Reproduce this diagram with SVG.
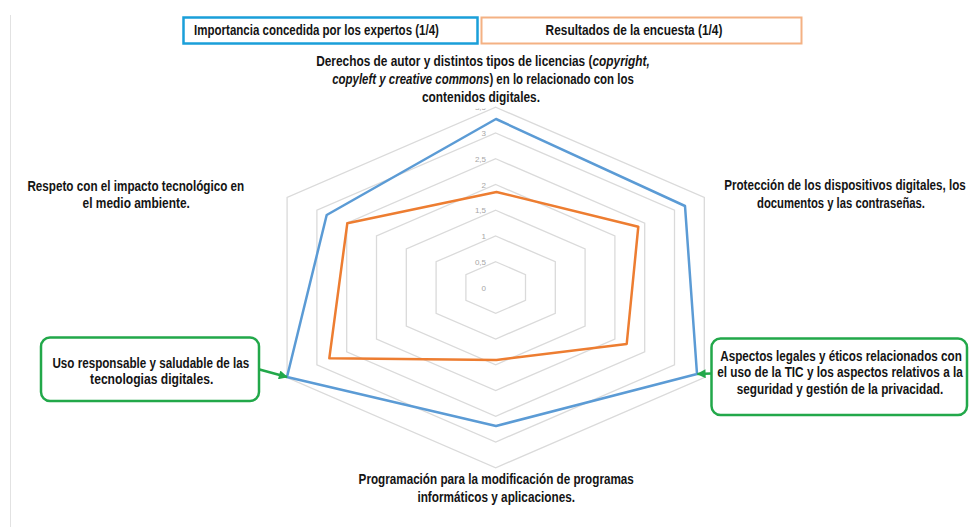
<svg xmlns="http://www.w3.org/2000/svg" width="969" height="527" viewBox="0 0 969 527">
  <defs>
    <style>
      .lbl{font-family:"Liberation Sans Narrow","Arial Narrow","Liberation Sans",Arial,sans-serif;font-weight:bold;font-size:14px;fill:#141414;text-anchor:middle}
      .tick{font-family:"Liberation Sans",Arial,sans-serif;font-size:8px;fill:#a6a6a6;text-anchor:end}
      .grid{fill:none;stroke:#dadada;stroke-width:1.3}
      .gbox{fill:#ffffff;stroke:#22a84a;stroke-width:2.5}
      .conn{stroke:#22a84a;stroke-width:2.5;fill:none}
      .it{font-style:italic}
    </style>
    <marker id="arr" viewBox="0 0 10 10" refX="9" refY="5" markerWidth="10" markerHeight="9" markerUnits="userSpaceOnUse" orient="auto">
      <path d="M0,0 L10,5 L0,10 z" fill="#22a84a"/>
    </marker>
    <clipPath id="clip35"><rect x="470" y="108.5" width="30" height="10"/></clipPath>
  </defs>

  <rect width="969" height="527" fill="#ffffff"/>
  <line x1="10.5" y1="15" x2="10.5" y2="527" stroke="#e2e2e2" stroke-width="1"/>

  <g id="legend-expertos">
    <rect x="183.5" y="17.5" width="294" height="26" fill="none" stroke="#1a9fd9" stroke-width="2.5"/>
    <text class="lbl" transform="translate(316.5,35) scale(0.8,1)" textLength="306" lengthAdjust="spacingAndGlyphs">Importancia concedida por los expertos (1/4)</text>
  </g>
  <g id="legend-encuesta">
    <rect x="481.5" y="17.5" width="320" height="26" fill="none" stroke="#f4b183" stroke-width="2"/>
    <text class="lbl" transform="translate(634,35) scale(0.8,1)" textLength="221" lengthAdjust="spacingAndGlyphs">Resultados de la encuesta (1/4)</text>
  </g>

  <g id="radar-grid">
    <polygon class="grid" points="495.7,261.75 525.5,274.6 525.5,300.4 495.7,313.25 465.9,300.4 465.9,274.6"/>
    <polygon class="grid" points="495.7,236 555.3,261.75 555.3,313.25 495.7,339 436.1,313.25 436.1,261.75"/>
    <polygon class="grid" points="495.7,210.25 585.1,248.9 585.1,326.1 495.7,364.75 406.3,326.1 406.3,248.9"/>
    <polygon class="grid" points="495.7,184.5 614.9,236 614.9,339 495.7,390.5 376.5,339 376.5,236"/>
    <polygon class="grid" points="495.7,158.75 644.7,223.1 644.7,351.9 495.7,416.25 346.7,351.9 346.7,223.1"/>
    <polygon class="grid" points="495.7,133 674.5,210.25 674.5,364.75 495.7,442 316.9,364.75 316.9,210.25"/>
    <polygon class="grid" points="495.7,107.25 704.3,197.4 704.3,377.6 495.7,467.75 287.1,377.6 287.1,197.4"/>
    <text class="tick" x="486" y="290.5">0</text>
    <text class="tick" x="486" y="264.8">0,5</text>
    <text class="tick" x="486" y="239">1</text>
    <text class="tick" x="486" y="213.3">1,5</text>
    <text class="tick" x="486" y="187.5">2</text>
    <text class="tick" x="486" y="161.8">2,5</text>
    <text class="tick" x="486" y="136">3</text>
    <text class="tick" x="486" y="110.3" clip-path="url(#clip35)">3,5</text>
  </g>

  <g id="serie-expertos">
    <polygon points="496,119 685,206 697,374 496,426 287,377 326.7,215" fill="none" stroke="#5b9bd5" stroke-width="2.5" stroke-linejoin="round"/>
  </g>
  <g id="serie-encuesta">
    <polygon points="496.5,192 638.3,226.7 626.7,344 496.5,360 329.3,358.3 347.3,223.3" fill="none" stroke="#ed7d31" stroke-width="2.5" stroke-linejoin="round"/>
  </g>

  <g id="eje-derechos">
    <text class="lbl" transform="translate(483,65.5) scale(0.8,1)" textLength="417" lengthAdjust="spacingAndGlyphs">Derechos de autor y distintos tipos de licencias (<tspan class="it">copyright,</tspan></text>
    <text class="lbl" transform="translate(483,84) scale(0.8,1)" textLength="377" lengthAdjust="spacingAndGlyphs"><tspan class="it">copyleft y creative commons</tspan>) en lo relacionado con los</text>
    <text class="lbl" transform="translate(481,101.8) scale(0.8,1)" textLength="147.5" lengthAdjust="spacingAndGlyphs">contenidos digitales.</text>
  </g>
  <g id="eje-proteccion">
    <text class="lbl" transform="translate(845,189.8) scale(0.8,1)" textLength="302" lengthAdjust="spacingAndGlyphs">Protección de los dispositivos digitales, los</text>
    <text class="lbl" transform="translate(841,207.5) scale(0.8,1)" textLength="210" lengthAdjust="spacingAndGlyphs">documentos y las contraseñas.</text>
  </g>
  <g id="eje-aspectos">
    <rect class="gbox" x="711.5" y="338.5" width="255.5" height="76.5" rx="9"/>
    <text class="lbl" transform="translate(841,360.5) scale(0.8,1)" textLength="302" lengthAdjust="spacingAndGlyphs">Aspectos legales y éticos relacionados con</text>
    <text class="lbl" transform="translate(840,377.3) scale(0.8,1)" textLength="307" lengthAdjust="spacingAndGlyphs">el uso de la TIC y los aspectos relativos a la</text>
    <text class="lbl" transform="translate(840,394) scale(0.8,1)" textLength="258" lengthAdjust="spacingAndGlyphs">seguridad y gestión de la privacidad.</text>
  </g>
  <g id="eje-programacion">
    <text class="lbl" transform="translate(496.2,484) scale(0.8,1)" textLength="344" lengthAdjust="spacingAndGlyphs">Programación para la modificación de programas</text>
    <text class="lbl" transform="translate(496.2,502) scale(0.8,1)" textLength="197" lengthAdjust="spacingAndGlyphs">informáticos y aplicaciones.</text>
  </g>
  <g id="eje-uso">
    <rect class="gbox" x="41" y="337.5" width="218" height="63.5" rx="9"/>
    <text class="lbl" transform="translate(150.8,367.5) scale(0.8,1)" textLength="246" lengthAdjust="spacingAndGlyphs">Uso responsable y saludable de las</text>
    <text class="lbl" transform="translate(151.7,384.2) scale(0.8,1)" textLength="154" lengthAdjust="spacingAndGlyphs">tecnologias digitales.</text>
  </g>
  <g id="eje-respeto">
    <text class="lbl" transform="translate(135.8,190.8) scale(0.8,1)" textLength="271" lengthAdjust="spacingAndGlyphs">Respeto con el impacto tecnológico en</text>
    <text class="lbl" transform="translate(136.2,208.3) scale(0.8,1)" textLength="134" lengthAdjust="spacingAndGlyphs">el medio ambiente.</text>
  </g>

  <g id="connectors">
    <line class="conn" x1="259.5" y1="369.5" x2="287" y2="377" marker-end="url(#arr)"/>
    <line class="conn" x1="711" y1="373.5" x2="697.5" y2="374" marker-end="url(#arr)"/>
  </g>
</svg>
